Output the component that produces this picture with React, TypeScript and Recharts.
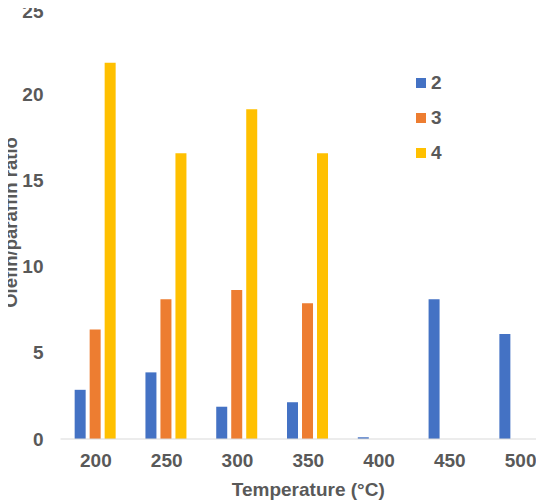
import { BarChart, Bar, XAxis, YAxis, Legend } from "recharts";

const temperatures = ["200", "250", "300", "350", "400", "450", "500"];
const series2 = [2.85, 3.86, 1.87, 2.13, 0.1, 8.1, 6.08];
const series3 = [6.35, 8.1, 8.63, 7.87, null, null, null];
const series4 = [21.8, 16.55, 19.1, 16.55, null, null, null];
const yTicks = [0, 5, 10, 15, 20, 25];

const COLORS = { s2: "#4472C4", s3: "#ED7D31", s4: "#FFC000" };
const TEXT = "#595959";
const FONT = "'Liberation Sans', Arial, sans-serif";

const rows = temperatures.map((t, i) => ({
  t,
  s2: series2[i],
  s3: series3[i],
  s4: series4[i],
}));

const tickStyle = { fill: TEXT, fontSize: 19, fontWeight: 700, fontFamily: FONT };

function LegendBox({ payload }: any) {
  return (
    <div style={{ fontFamily: FONT }}>
      {(payload || []).map((p: any) => (
        <div
          key={p.value}
          style={{ display: "flex", alignItems: "center", height: 35 }}
        >
          <span
            style={{ width: 10, height: 10, background: p.color, display: "inline-block", marginRight: 5 }}
          />
          <span style={{ color: TEXT, fontSize: 19, fontWeight: 700 }}>{p.value}</span>
        </div>
      ))}
    </div>
  );
}

export default function App() {
  return (
    <div style={{ width: 544, height: 500, overflow: "hidden", marginLeft: -8, marginTop: -8, background: "#fff" }}>
      <BarChart
        width={556}
        height={500}
        data={rows}
        margin={{ top: 7.5, right: 0, bottom: 0, left: 0 }}
        barGap={4}
        barCategoryGap="20%"
      >
        <XAxis
          dataKey="t"
          height={61}
          tickSize={0}
          tickMargin={15}
          tick={tickStyle}
          axisLine={{ stroke: "#D9D9D9" }}
          label={{
            value: "Temperature (°C)",
            position: "insideBottom",
            offset: 4.5,
            style: { fill: TEXT, fontSize: 19, fontWeight: 700, fontFamily: FONT },
          }}
        />
        <YAxis
          width={60.5}
          domain={[0, 25]}
          ticks={yTicks}
          tickSize={0}
          tickMargin={17}
          axisLine={false}
          tick={tickStyle}
          label={{
            content: () => (
              <text
                x={16.5}
                y={222.5}
                transform="rotate(-90 16.5 222.5)"
                textAnchor="middle"
                fill={TEXT}
                fontSize={18.5}
                fontWeight={700}
                fontFamily={FONT}
              >
                Olefin/paraffin ratio
              </text>
            ),
          }}
        />
        <Legend
          layout="vertical"
          align="center"
          verticalAlign="middle"
          content={<LegendBox />}
          wrapperStyle={{ left: 416, top: 65, width: 60 }}
        />
        <Bar dataKey="s2" name="2" fill={COLORS.s2} isAnimationActive={false} />
        <Bar dataKey="s3" name="3" fill={COLORS.s3} isAnimationActive={false} />
        <Bar dataKey="s4" name="4" fill={COLORS.s4} isAnimationActive={false} />
      </BarChart>
    </div>
  );
}
